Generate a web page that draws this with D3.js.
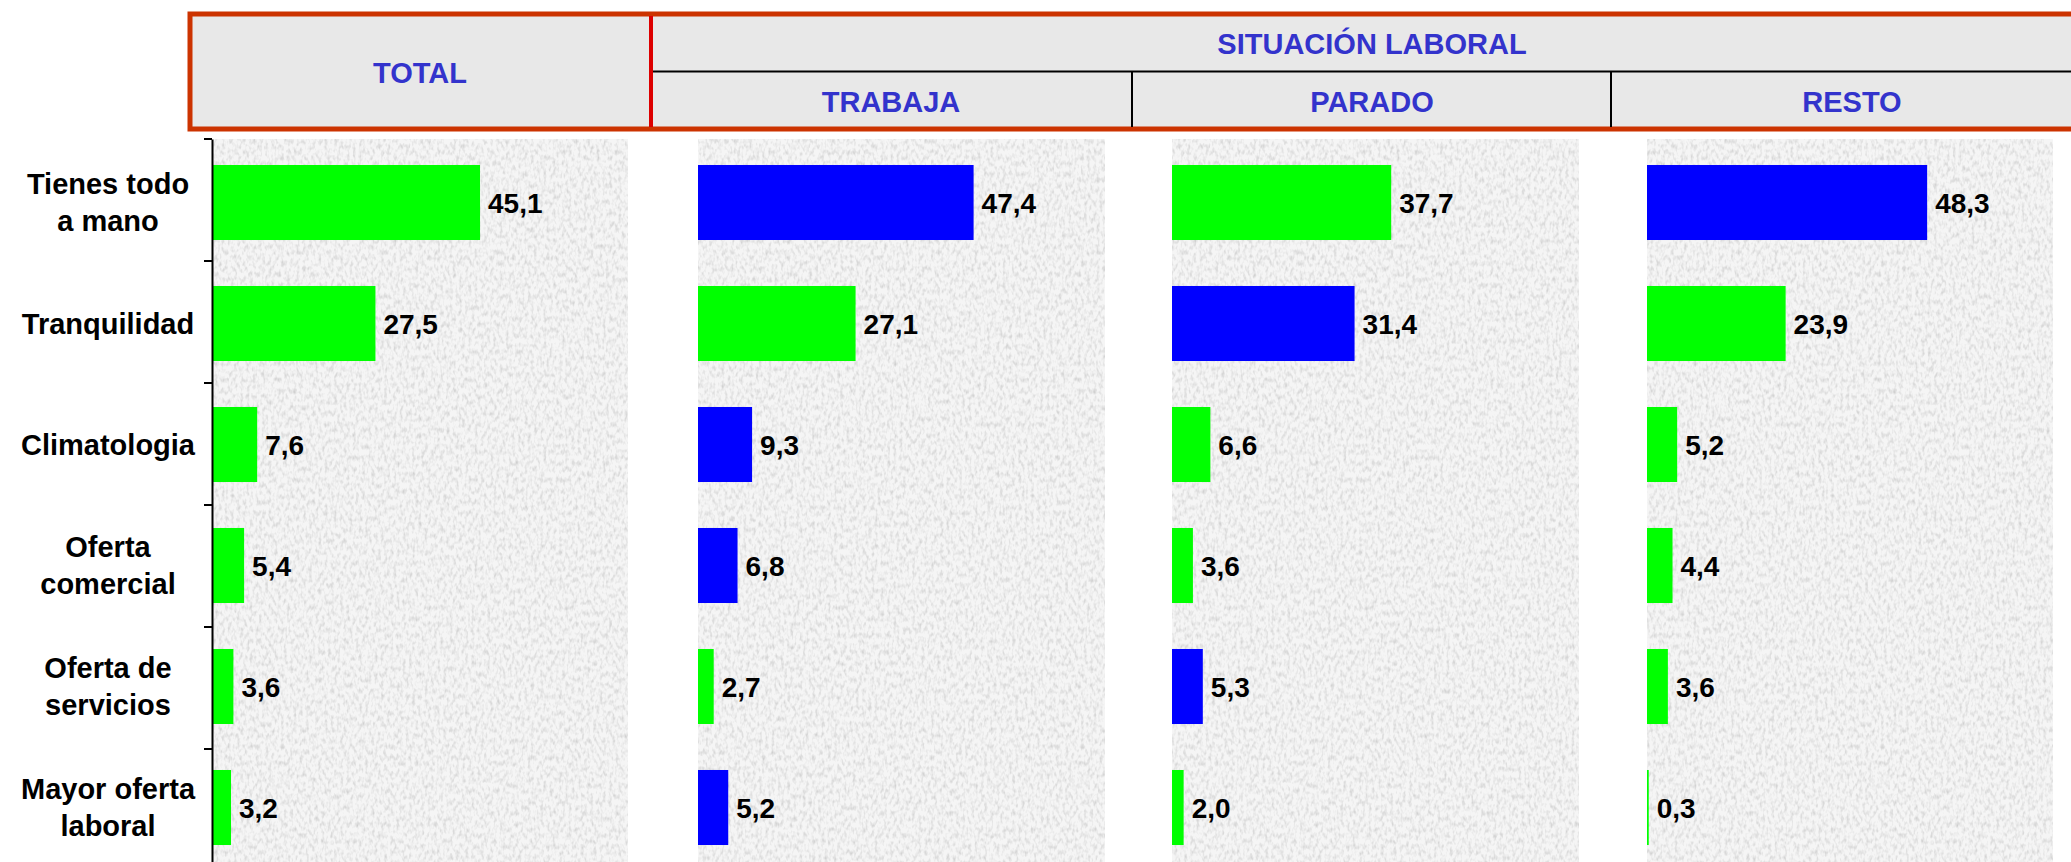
<!DOCTYPE html>
<html>
<head>
<meta charset="utf-8">
<script src="https://cdn.jsdelivr.net/npm/d3@7"></script>
<style>
  body { margin: 0; background: #fff; }
  svg { display: block; font-family: "Liberation Sans", Arial, sans-serif; font-weight: bold; }
</style>
</head>
<body>
<div id="chart"></div>
<script>
// datos
const categorias = ["Tienes todo\na mano", "Tranquilidad", "Climatologia", "Oferta\ncomercial", "Oferta de\nservicios", "Mayor oferta\nlaboral"];
const grupos = ["TOTAL", "TRABAJA", "PARADO", "RESTO"];
const total   = [45.1, 27.5, 7.6, 5.4, 3.6, 3.2];
const trabaja = [47.4, 27.1, 9.3, 6.8, 2.7, 5.2];
const parado  = [37.7, 31.4, 6.6, 3.6, 5.3, 2.0];
const resto   = [48.3, 23.9, 5.2, 4.4, 3.6, 0.3];
const series = [total, trabaja, parado, resto];
const cabecera = "SITUACIÓN LABORAL";

const W = 2071, H = 862;
const verde = "#00ff00", azul = "#0000ff", azulTexto = "#3333cc";

const svg = d3.select("#chart").append("svg")
    .attr("width", W)
    .attr("height", H);

// textura tipo papel para el fondo de cada panel
const defs = svg.append("defs");
const f = defs.append("filter").attr("id", "papel")
    .attr("x", 0).attr("y", 0).attr("width", 1).attr("height", 1);
f.append("feTurbulence").attr("type", "fractalNoise")
    .attr("baseFrequency", "0.32 0.18").attr("numOctaves", 2).attr("seed", 5).attr("result", "ruido");
f.append("feColorMatrix").attr("in", "ruido").attr("type", "matrix")
    .attr("values", "0 0 0 0 0.62  0 0 0 0 0.62  0 0 0 0 0.62  2.0 0 0 0 -0.86")
    .attr("result", "motas");
f.append("feFlood").attr("flood-color", "#f5f5f5").attr("result", "base");
f.append("feComposite").attr("in", "motas").attr("in2", "base").attr("operator", "over").attr("result", "tex");
f.append("feComposite").attr("in", "tex").attr("in2", "SourceGraphic").attr("operator", "in");

// cabecera
const hdr = svg.append("g");
hdr.append("rect")
    .attr("x", 190).attr("y", 14).attr("width", 1915).attr("height", 115)
    .attr("fill", "#e8e8e8").attr("stroke", "#cc3300").attr("stroke-width", 5);
hdr.append("line").attr("x1", 652).attr("x2", W).attr("y1", 71.5).attr("y2", 71.5)
    .attr("stroke", "#000").attr("stroke-width", 2);
[1132, 1611].forEach(x => hdr.append("line")
    .attr("x1", x).attr("x2", x).attr("y1", 72).attr("y2", 127)
    .attr("stroke", "#000").attr("stroke-width", 2));
hdr.append("line").attr("x1", 651).attr("x2", 651).attr("y1", 16).attr("y2", 127)
    .attr("stroke", "#dd0000").attr("stroke-width", 4);

const hText = (t, x, y) => hdr.append("text").text(t)
    .attr("x", x).attr("y", y).attr("text-anchor", "middle")
    .attr("font-size", 29).attr("fill", azulTexto);
hText(grupos[0], 420, 83);
hText(cabecera, 1372, 54);
hText(grupos[1], 891, 112);
hText(grupos[2], 1372, 112);
hText(grupos[3], 1852, 112);

// paneles
const panelX = [212, 698, 1172, 1647];
const panelW = [416, 407, 407, 406];
const topY = 139, paso = 122;

const y = d3.scaleBand()
    .domain(categorias)
    .range([topY + 3, topY + 3 + 121 * categorias.length])
    .paddingInner(0.38)
    .paddingOuter(0.19);

const fmt = d3.formatLocale({decimal: ",", thousands: ".", grouping: [3], currency: ["", "€"]}).format(".1f");

series.forEach((vals, i) => {
    const x = d3.scaleLinear().domain([0, 70]).range([panelX[i], panelX[i] + panelW[i]]);
    const g = svg.append("g");

    g.append("rect")
        .attr("x", panelX[i]).attr("y", topY)
        .attr("width", panelW[i]).attr("height", H - topY + 20)
        .attr("fill", "#fff").attr("filter", "url(#papel)");

    g.selectAll("rect.bar")
        .data(vals)
        .enter().append("rect")
        .attr("class", "bar")
        .attr("x", x(0))
        .attr("y", (d, j) => y(categorias[j]))
        .attr("width", d => x(d) - x(0))
        .attr("height", y.bandwidth())
        .attr("fill", (d, j) => d > total[j] ? azul : verde);

    g.selectAll("text.val")
        .data(vals)
        .enter().append("text")
        .attr("class", "val")
        .attr("x", d => x(d) + 8)
        .attr("y", (d, j) => y(categorias[j]) + y.bandwidth() / 2 + 10)
        .attr("font-size", 28)
        .attr("fill", "#000")
        .text(d => fmt(d));
});

// eje de categorias (solo en el primer panel)
const yEje = d3.scaleBand().domain(categorias).range([topY, topY + paso * categorias.length]);
const eje = svg.append("g")
    .attr("transform", "translate(" + panelX[0] + ",0)")
    .call(d3.axisLeft(yEje).tickValues([]).tickSizeOuter(0));
eje.select(".domain").attr("stroke", "#000").attr("stroke-width", 2);
d3.range(categorias.length + 1).forEach(k => eje.append("line")
    .attr("x1", -8).attr("x2", 0)
    .attr("y1", topY + k * paso).attr("y2", topY + k * paso)
    .attr("stroke", "#000").attr("stroke-width", 2));

categorias.forEach(c => {
    const lineas = c.split("\n");
    const cy = y(c) + y.bandwidth() / 2;
    const t = svg.append("text")
        .attr("text-anchor", "middle")
        .attr("font-size", 29)
        .attr("fill", "#000");
    lineas.forEach((l, k) => t.append("tspan")
        .attr("x", 108)
        .attr("y", cy + 10 + (k - (lineas.length - 1) / 2) * 37)
        .text(l));
});
</script>
</body>
</html>
